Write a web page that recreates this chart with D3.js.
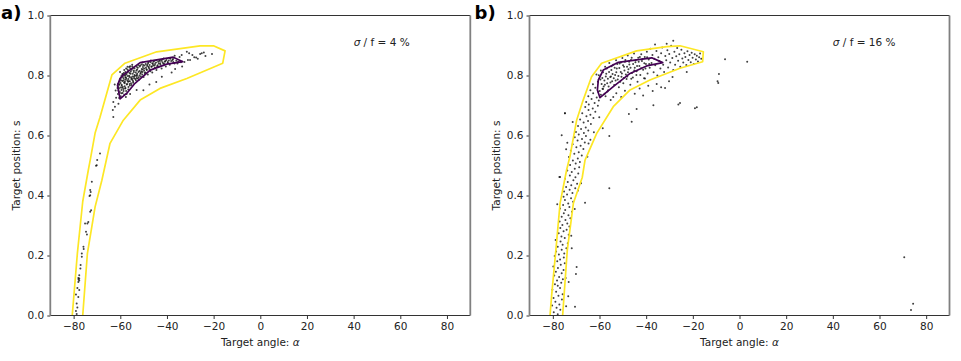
<!DOCTYPE html>
<html>
<head>
<meta charset="utf-8">
<script src="https://cdn.jsdelivr.net/npm/d3@7"></script>
<style>
  body { margin: 0; background: #fff; }
  text { font-family: "DejaVu Sans", sans-serif; }
</style>
</head>
<body>
<div id="chart"></div>
<script>
// tick values shared by both panels
var xTicks = [-80, -60, -40, -20, 0, 20, 40, 60, 80];
var yTicks = [0, 0.2, 0.4, 0.6, 0.8, 1.0];
var panelLabels = ["a)", "b)"];
var noiseLabels = ["4 %", "16 %"];

// outer (yellow) and inner (purple) density contours, [angle, position]
var outerA = [[-81.4,-0.04],[-80.6,0],[-78.4,0.207],[-76.1,0.38],[-73.7,0.485],[-72.9,0.518],[-70.8,0.608],[-68.7,0.661],[-63.6,0.802],[-58.0,0.841],[-44.4,0.879],[-25.8,0.899],[-20.1,0.899],[-15.1,0.882],[-16.1,0.841],[-31.5,0.79],[-43.0,0.757],[-51.5,0.718],[-58.7,0.651],[-64.4,0.574],[-67.9,0.451],[-70.8,0.362],[-74.1,0.207],[-76.1,0],[-76.5,-0.04]];
var innerA = [[-58.7,0.802],[-51.5,0.843],[-44.4,0.852],[-37.3,0.861],[-33.2,0.846],[-40.1,0.838],[-47.2,0.818],[-53.7,0.774],[-57.2,0.741],[-60.1,0.722],[-61.2,0.767],[-60.1,0.79]];
var outerB = [[-82,-0.04],[-81.2,0],[-80.5,0.068],[-78.7,0.218],[-76.9,0.374],[-74.1,0.485],[-72.7,0.529],[-69.8,0.651],[-67.0,0.718],[-63.4,0.796],[-59.1,0.841],[-44.1,0.882],[-31.2,0.896],[-25.5,0.899],[-15.5,0.879],[-15.8,0.846],[-25.5,0.824],[-38.4,0.785],[-46.9,0.752],[-54.1,0.696],[-61.2,0.607],[-66.2,0.518],[-67.4,0.46],[-71.2,0.374],[-73.8,0.218],[-75.8,0],[-76.2,-0.04]];
var innerB = [[-60.5,0.785],[-58.4,0.818],[-51.9,0.844],[-44.1,0.852],[-37.6,0.859],[-32.9,0.843],[-39.8,0.832],[-46.9,0.807],[-54.1,0.763],[-59.8,0.726],[-60.9,0.752]];

// samples, sigma/f = 4 %
var pointsA = [
 [-60.5,0.725],[-59.8,0.731],[-61,0.738],[-59,0.742],[-60.2,0.745],[-58.3,0.736],[-57.5,0.748],[-60.8,0.75],[-59.5,0.752],[-58.7,0.755],
 [-61.2,0.758],[-60,0.76],[-58.9,0.762],[-57.8,0.758],[-56.5,0.762],[-55.2,0.768],[-59.4,0.766],[-60.6,0.768],[-57.2,0.77],[-56,0.772],[-58.1,0.774],[-59.9,0.775],[-54.5,0.776],[-61,0.772],
 [-60.3,0.78],[-59.1,0.782],[-58,0.779],[-57,0.783],[-55.9,0.781],[-54.8,0.785],[-53.6,0.788],[-52.5,0.79],[-56.5,0.788],[-58.6,0.79],[-59.8,0.792],[-57.6,0.793],[-55.4,0.794],[-54.1,0.796],[-52.9,0.798],[-51.8,0.8],[-50.6,0.803],[-56.8,0.798],[-58.2,0.8],[-59.5,0.798],[-60.1,0.788],[-55,0.79],[-53,0.792],[-57.9,0.786],[-56.1,0.795],
 [-57.3,0.805],[-56,0.808],[-54.7,0.806],[-53.4,0.81],[-52.2,0.812],[-51,0.814],[-49.8,0.816],[-48.6,0.818],[-58.5,0.808],[-55.5,0.813],[-54.2,0.817],[-52.8,0.82],[-50.4,0.82],[-47.5,0.822],[-57.8,0.812],[-56.6,0.816],[-59,0.803],[-53.9,0.802],[-51.4,0.806],[-49.2,0.81],[-56.9,0.82],
 [-55.7,0.823],[-54.4,0.826],[-53,0.829],[-51.7,0.83],[-50.3,0.828],[-49,0.826],[-47.8,0.829],[-46.5,0.83],[-45.3,0.833],[-44,0.834],[-42.8,0.836],[-52.3,0.835],[-50.9,0.837],[-48.4,0.836],[-46,0.838],[-43.5,0.84],[-41.6,0.84],[-54.9,0.83],[-56.2,0.828],[-49.6,0.833],
 [-50.5,0.843],[-48,0.845],[-45.7,0.846],[-43.1,0.848],[-40.7,0.848],[-39.2,0.85],[-37.6,0.852],[-36,0.849],[-41.9,0.853],[-44.4,0.852],[-38.5,0.856],[-35.2,0.846],[-46.9,0.85],[-34,0.844],
 [-52,0.786],[-50,0.795],[-48.2,0.803],[-46.3,0.81],[-44.5,0.818],[-42.3,0.823],[-40.5,0.83],[-38.8,0.836],[-36.8,0.84],[-45.2,0.826],[-47.1,0.814],[-49.3,0.804],[-51.2,0.797],[-43.7,0.828],[-41.2,0.838],[-39.6,0.842],[-37.3,0.845],[-35.5,0.84],
 [-60.4,0.771],[-59.7,0.784],[-59.3,0.759],[-58.9,0.795],[-58.4,0.777],[-58.1,0.764],[-57.7,0.802],[-57.4,0.789],[-57.1,0.772],[-56.8,0.811],[-56.4,0.781],[-56.2,0.799],[-55.9,0.767],[-55.6,0.806],[-55.3,0.788],[-55.1,0.819],[-54.7,0.797],[-54.5,0.781],[-54.2,0.812],[-53.9,0.824],
 [-53.6,0.799],[-53.3,0.784],[-53.1,0.817],[-52.8,0.806],[-52.5,0.826],[-52.1,0.794],[-51.8,0.815],[-51.5,0.833],[-51.2,0.809],[-50.8,0.822],[-50.5,0.812],[-50.2,0.835],[-49.8,0.823],[-49.5,0.808],[-49.1,0.838],[-48.8,0.821],[-48.5,0.832],[-48.1,0.841],[-47.8,0.826],[-47.4,0.835],
 [-47.1,0.844],[-46.7,0.829],[-46.3,0.841],[-45.9,0.833],[-45.5,0.849],[-45.1,0.838],[-44.7,0.843],[-44.2,0.831],[-43.8,0.846],[-43.3,0.852],[-42.9,0.841],[-42.4,0.849],[-41.9,0.844],[-41.4,0.857],[-40.9,0.846],[-40.2,0.852],[-39.7,0.845],[-38.9,0.858],[-38.2,0.848],[-37.4,0.855],
 [-60.9,0.762],[-59.6,0.741],[-58.6,0.748],[-57.9,0.757],[-57.3,0.738],[-56.6,0.753],[-59.1,0.805],[-58.3,0.818],[-57.5,0.823],[-56.9,0.829],[-55.8,0.831],[-54.9,0.836],[-60.6,0.757],[-59.4,0.769],[-58.7,0.783],[-57.8,0.794],[-56.7,0.779],[-55.4,0.774],[-54.1,0.791],[-52.9,0.802],
 [-63,0.712],[-63.2,0.685],[-63,0.662],[-62.3,0.696],[-60.8,0.706],[-61.8,0.726],[-62,0.75],[-62.4,0.77],[-57.6,0.728],[-55.8,0.738],[-53,0.752],[-50.1,0.751],[-47.5,0.77],[-44.6,0.778],[-42.2,0.796],[-38,0.81],[-36.5,0.822],[-33.5,0.83],[-32.5,0.845],[-31,0.852],
 [-33.7,0.868],[-31.5,0.879],[-30.5,0.874],[-29.1,0.868],[-28.3,0.861],[-25.8,0.872],[-25.1,0.874],[-30.1,0.852],[-26.8,0.856],[-24.2,0.877],[-27.5,0.86],[-34.6,0.862],[-36.7,0.866],[-23.5,0.865],[-20.7,0.872],[-60.1,0.812],
 [-70.1,0.501],[-68.7,0.54],[-69.9,0.518],[-70.4,0.499],[-72.2,0.446],[-72.9,0.418],[-73.2,0.398],[-72.7,0.412],[-72.9,0.401],[-72.5,0.351],[-72.9,0.346],[-73.7,0.312],[-74.1,0.307],[-74.7,0.279],[-75.1,0.307],[-74.3,0.27],
 [-75.8,0.229],[-75.7,0.222],[-76.5,0.207],[-76.5,0.196],[-77,0.168],[-77.1,0.157],[-77.6,0.134],[-78,0.125],[-77.6,0.123],[-77.9,0.12],[-77.6,0.117],[-78,0.112],[-78.4,0.092],[-77.6,0.085],[-79,0.07],[-78,0.062],[-78.7,0.04],[-78.4,0.027],[-79,0.015],[-78.7,0.005]
];

// samples, sigma/f = 16 %
var pointsB = [
 [-77.9,0.004],[-79.6,0.011],[-76.8,0.019],[-78.4,0.026],[-80.3,0.033],[-77.2,0.037],[-78.9,0.046],[-76.1,0.053],[-79.7,0.058],[-77.6,0.066],[-75.8,0.071],[-78.6,0.079],[-80.2,0.086],[-76.9,0.092],[-77.9,0.099],[-74.3,0.031],[-73.4,0.064],[-70.5,0.029],
 [-79.1,0.104],[-76.4,0.109],[-78.2,0.117],[-75.7,0.121],[-77.3,0.128],[-79.4,0.133],[-76.2,0.141],[-78.7,0.146],[-75.4,0.152],[-77.8,0.158],[-79.8,0.163],[-76.6,0.169],[-74.9,0.174],[-78.1,0.181],[-76.9,0.187],[-75.3,0.193],[-79.2,0.198],[-70.1,0.138],[-69.8,0.162],[-73.2,0.112],[-74.5,0.125],
 [-77.4,0.203],[-75.1,0.207],[-78.6,0.213],[-76.2,0.219],[-74.2,0.224],[-77.9,0.229],[-75.8,0.236],[-73.6,0.241],[-76.7,0.247],[-78.8,0.252],[-74.9,0.258],[-76.3,0.263],[-73.2,0.269],[-77.5,0.274],[-75.4,0.281],[-74.1,0.286],[-76.8,0.292],[-72.9,0.297],[-71.9,0.224],[-72.1,0.266],
 [-75.9,0.302],[-73.8,0.307],[-77.1,0.313],[-74.6,0.318],[-72.5,0.324],[-76.2,0.329],[-73.3,0.334],[-75.3,0.341],[-71.8,0.346],[-74.7,0.352],[-76.9,0.357],[-72.9,0.362],[-75.6,0.368],[-73.4,0.373],[-71.3,0.379],[-74.8,0.385],[-72.2,0.391],[-75.4,0.396],[-66.2,0.376],[-70.6,0.355],[-78.1,0.371],
 [-73.9,0.403],[-71.6,0.408],[-75.2,0.413],[-72.8,0.419],[-70.4,0.424],[-74.3,0.428],[-72.1,0.434],[-69.6,0.439],[-73.6,0.445],[-71.2,0.451],[-74.8,0.456],[-70.3,0.461],[-72.7,0.467],[-69.1,0.473],[-71.9,0.478],[-73.8,0.483],[-70.6,0.489],[-68.7,0.494],[-55.8,0.424],[-76.9,0.462],[-67.9,0.441],[-69.2,0.417],
 [-72.6,0.502],[-70.2,0.507],[-68.4,0.512],[-71.4,0.517],[-69.3,0.523],[-73.1,0.528],[-67.6,0.533],[-70.8,0.539],[-68.9,0.544],[-72.3,0.549],[-66.9,0.555],[-69.9,0.561],[-68.1,0.566],[-71.5,0.571],[-66.3,0.577],[-69.4,0.583],[-67.5,0.588],[-70.6,0.594],[-65.8,0.598],[-64.7,0.573],[-63.9,0.586],[-73.8,0.576],[-65.2,0.529],[-74.3,0.554],
 [-68.9,0.603],[-66.7,0.608],[-70.1,0.612],[-64.8,0.617],[-67.9,0.622],[-65.9,0.627],[-69.2,0.632],[-63.7,0.638],[-66.8,0.643],[-64.9,0.648],[-68.3,0.653],[-62.6,0.658],[-65.6,0.664],[-63.9,0.669],[-67.4,0.674],[-61.8,0.679],[-64.7,0.685],[-62.9,0.69],[-66.1,0.695],[-60.7,0.699],[-76.2,0.601],[-74.8,0.674],[-55.8,0.598],[-58.6,0.624],[-60.1,0.661],[-71.5,0.645],[-62.4,0.611],
 [-64.6,0.703],[-62.1,0.708],[-65.7,0.712],[-60.3,0.717],[-63.4,0.722],[-61.2,0.727],[-64.8,0.731],[-59.4,0.736],[-62.7,0.741],[-60.6,0.746],[-63.9,0.751],[-58.5,0.755],[-61.8,0.759],[-56.6,0.747],[-54.1,0.728],[-57.8,0.739],
 [-62.8,0.771],[-61.3,0.803],[-60.7,0.779],[-59.9,0.748],[-59.4,0.817],[-58.8,0.792],[-58.2,0.763],[-57.6,0.829],[-57.1,0.806],[-56.7,0.774],[-56.3,0.751],[-55.8,0.842],[-55.4,0.795],[-54.9,0.818],[-54.6,0.781],[-54.1,0.836],[-53.7,0.768],[-53.3,0.802],[-52.9,0.851],[-52.6,0.823],
 [-52.2,0.787],[-51.7,0.761],[-51.4,0.84],[-50.9,0.812],[-50.6,0.796],[-50.2,0.858],[-49.8,0.774],[-49.5,0.829],[-49.1,0.846],[-48.7,0.803],[-48.4,0.788],[-47.9,0.867],[-47.6,0.821],[-47.2,0.837],[-46.8,0.769],[-46.5,0.852],[-46.1,0.808],[-45.7,0.793],[-45.2,0.873],[-44.9,0.826],
 [-44.6,0.844],[-44.1,0.814],[-43.7,0.779],[-43.4,0.859],[-42.9,0.832],[-42.5,0.802],[-42.1,0.871],[-41.8,0.848],[-41.3,0.819],[-40.9,0.791],[-40.6,0.862],[-40.1,0.838],[-39.7,0.879],[-39.4,0.807],[-38.9,0.853],[-38.5,0.826],[-38.2,0.889],[-37.7,0.842],[-37.3,0.868],[-36.8,0.811],
 [-36.5,0.856],[-36.1,0.834],[-35.6,0.882],[-35.2,0.8],[-34.8,0.861],[-34.4,0.848],[-33.9,0.823],[-33.6,0.874],[-33.1,0.893],[-32.7,0.836],[-32.3,0.812],[-31.8,0.865],[-31.4,0.851],[-30.9,0.884],[-30.6,0.827],[-30.1,0.872],[-29.7,0.843],[-29.3,0.899],[-28.8,0.858],[-28.4,0.818],
 [-27.9,0.879],[-27.6,0.836],[-27.1,0.864],[-26.7,0.892],[-26.3,0.849],[-25.8,0.871],[-25.4,0.829],[-24.9,0.886],[-24.5,0.857],[-24.1,0.843],[-23.6,0.874],[-23.2,0.862],[-22.8,0.835],[-22.3,0.881],[-21.9,0.852],[-21.4,0.868],[-20.9,0.844],[-20.5,0.876],[-20.1,0.859],[-19.6,0.838],
 [-19.2,0.871],[-18.7,0.853],[-18.3,0.866],[-17.8,0.847],[-17.3,0.861],[-16.9,0.873],[-16.4,0.856],[-36.2,0.903],[-28.4,0.916],[-31.2,0.906],
 [-60.3,0.801],[-59.6,0.787],[-59.1,0.772],[-58.5,0.811],[-57.9,0.783],[-57.3,0.797],[-56.9,0.823],[-56.4,0.789],[-55.9,0.812],[-55.3,0.777],[-54.8,0.831],[-54.4,0.805],[-53.9,0.791],[-53.5,0.826],[-52.8,0.811],[-52.4,0.838],[-51.9,0.798],[-51.5,0.825],[-50.8,0.843],[-50.4,0.807],
 [-49.9,0.834],[-49.3,0.817],[-48.9,0.852],[-48.2,0.829],[-47.8,0.811],[-47.3,0.846],[-46.7,0.826],[-46.2,0.859],[-45.6,0.838],[-45.1,0.817],[-44.5,0.851],[-43.9,0.832],[-43.2,0.846],[-42.7,0.862],[-42.2,0.824],[-41.6,0.855],[-40.8,0.841],[-40.3,0.823],[-39.6,0.861],[-38.7,0.838],
 [-58.7,0.756],[-57.7,0.769],[-56.1,0.763],[-55.1,0.797],[-53.1,0.783],[-51.1,0.779],[-49.6,0.792],[-48.1,0.797],[-46.4,0.789],[-44.2,0.802],
 [-57.4,0.731],[-55.2,0.718],[-52.8,0.741],[-50.7,0.728],[-49.1,0.749],[-47.4,0.672],[-46.2,0.646],[-44.9,0.739],[-42.8,0.757],[-41.3,0.733],[-39.1,0.766],[-37.2,0.748],[-35.5,0.772],[-33.6,0.761],[-31.9,0.758],[-30.2,0.781],[-28.7,0.795],[-26.2,0.703],[-25.5,0.708],[-19.1,0.691],
 [-18.3,0.694],[-22.6,0.812],[-9.1,0.775],[-9.4,0.781],[-8.8,0.805],[-6.2,0.854],[3.3,0.846],[-36.9,0.701],[-44.1,0.688],[-40.5,0.79],
 [-74.8,0.674],[-77.2,0.462],[70.6,0.194],[74.4,0.039],[73.5,0.018]
];

var svg = d3.select("#chart").append("svg")
    .attr("width", 961)
    .attr("height", 361);

function drawPanel(left, idx, points, outer, inner) {
    var margin = {top: 15.5, left: left},
        width = 420,
        height = 300;

    var xScale = d3.scaleLinear().domain([-90, 90]).range([0, width]);
    var yScale = d3.scaleLinear().domain([0, 1]).range([height, 0]);

    var g = svg.append("g")
        .attr("transform", "translate(" + margin.left + "," + margin.top + ")");

    g.append("clipPath").attr("id", "clip" + idx)
        .append("rect").attr("width", width).attr("height", height);
    var plot = g.append("g").attr("clip-path", "url(#clip" + idx + ")");

    // scatter of samples
    plot.selectAll(".dot")
        .data(points)
        .enter().append("circle")
        .attr("class", "dot")
        .attr("cx", function(d) { return xScale(d[0]); })
        .attr("cy", function(d) { return yScale(d[1]); })
        .attr("r", 1.0)
        .attr("fill", "#111")
        .attr("fill-opacity", 0.8);

    var line = d3.line()
        .x(function(d) { return xScale(d[0]); })
        .y(function(d) { return yScale(d[1]); })
        .curve(d3.curveLinearClosed);

    plot.append("path").datum(outer)
        .attr("d", line)
        .attr("fill", "none")
        .attr("stroke", "#fde725")
        .attr("stroke-width", 1.7)
        .attr("stroke-linejoin", "round");

    plot.append("path").datum(inner)
        .attr("d", line)
        .attr("fill", "none")
        .attr("stroke", "#440154")
        .attr("stroke-width", 1.7)
        .attr("stroke-linejoin", "round");

    // axes
    var xAxis = g.append("g")
        .attr("transform", "translate(0," + height + ")")
        .call(d3.axisBottom(xScale).tickValues(xTicks).tickSize(3.5).tickPadding(3.5));
    var yAxis = g.append("g")
        .call(d3.axisLeft(yScale).tickValues(yTicks).tickFormat(d3.format(".1f")).tickSize(3).tickPadding(3));
    [xAxis, yAxis].forEach(function(a) {
        a.select(".domain").remove();
        a.selectAll("text").attr("font-size", "10.5px").attr("fill", "#222").attr("font-family", "DejaVu Sans");
        a.selectAll("line").attr("stroke", "#333");
    });

    // spines
    g.append("line").attr("x1", 0).attr("x2", width).attr("y1", 0).attr("y2", 0).attr("stroke", "#333");
    g.append("line").attr("x1", 0).attr("x2", width).attr("y1", height).attr("y2", height).attr("stroke", "#333");
    g.append("line").attr("x1", 0).attr("x2", 0).attr("y1", 0).attr("y2", height).attr("stroke", "#808080").attr("stroke-width", 1.8);
    g.append("line").attr("x1", width).attr("x2", width).attr("y1", 0).attr("y2", height).attr("stroke", "#808080").attr("stroke-width", 1.8);

    // axis labels
    var xl = g.append("text")
        .attr("x", width / 2).attr("y", 330.5)
        .attr("text-anchor", "middle").attr("font-size", "10.5px").attr("fill", "#222")
        .text("Target angle: ");
    xl.append("tspan").attr("font-style", "italic").text("\u03b1");

    g.append("text")
        .attr("transform", "translate(" + (-30) + "," + (height / 2) + ") rotate(-90)")
        .attr("text-anchor", "middle").attr("font-size", "10.5px").attr("fill", "#222")
        .text("Target position: s");

    // noise annotation
    var note = g.append("text")
        .attr("x", xScale(40)).attr("y", yScale(0.9))
        .attr("font-size", "10.5px").attr("fill", "#222");
    note.append("tspan").attr("font-style", "italic").text("\u03c3");
    note.append("tspan").text(" / f = " + noiseLabels[idx]);

    // panel letter
    svg.append("text")
        .attr("x", idx === 0 ? 1 : 474.5).attr("y", 19)
        .attr("font-family", "'Liberation Sans', Arial, sans-serif")
        .attr("font-weight", "bold").attr("font-size", "18px").attr("fill", "#000")
        .text(panelLabels[idx]);
}

drawPanel(50.3, 0, pointsA, outerA, innerA);
drawPanel(529.5, 1, pointsB, outerB, innerB);
</script>
</body>
</html>
